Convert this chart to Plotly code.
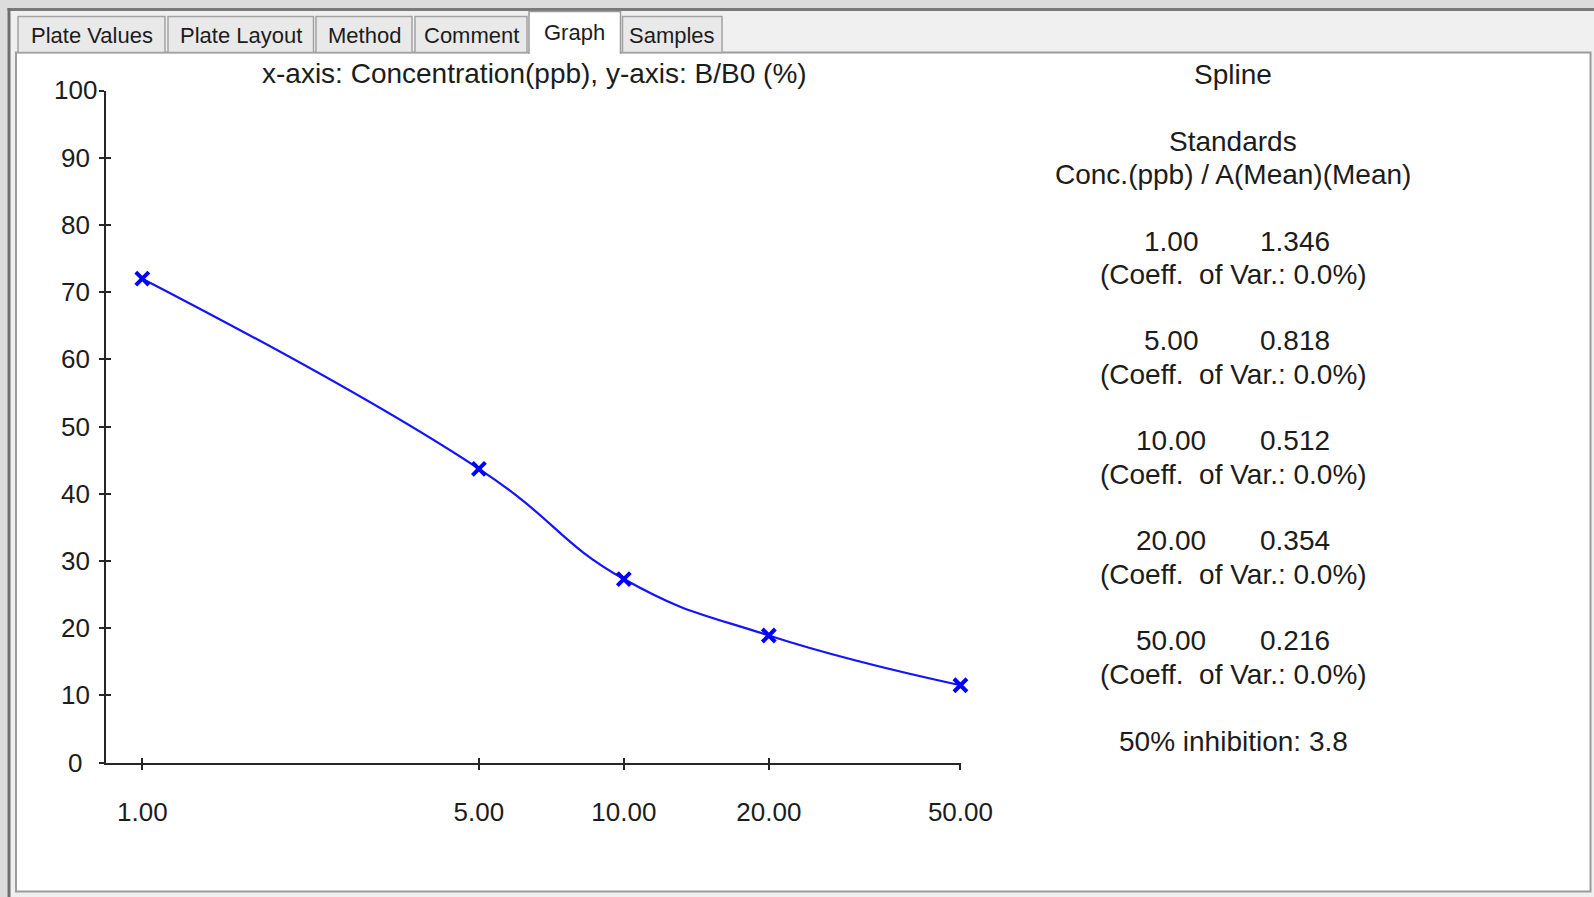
import plotly.graph_objects as go

# ---------------- data ----------------
conc = [1, 5, 10, 20, 50]
conc_labels = ["1.00", "5.00", "10.00", "20.00", "50.00"]
b_b0 = [72.0, 43.7, 27.3, 18.9, 11.5]          # y-axis: B/B0 (%)
mean_abs = [1.346, 0.818, 0.512, 0.354, 0.216]  # A(Mean)(Mean)
coeff_var = [0.0, 0.0, 0.0, 0.0, 0.0]           # %
inhibition_50 = 3.8
y_ticks = [0, 10, 20, 30, 40, 50, 60, 70, 80, 90, 100]
tab_names = ["Plate Values", "Plate Layout", "Method", "Comment", "Graph", "Samples"]
selected_tab = "Graph"

W, H = 1594, 897
FONT = "Liberation Sans, Arial, sans-serif"
TXT = "#1c1c1c"


def px(x):
    return x / W


def py(y):
    return 1 - y / H


shapes = []
annotations = []

# ---- window frame ----
shapes.append(dict(type="rect", xref="paper", yref="paper", x0=0, x1=1, y0=py(8), y1=1,
                   fillcolor="#dcdcdc", line_width=0, layer="below"))
shapes.append(dict(type="rect", xref="paper", yref="paper", x0=0, x1=px(7.5), y0=0, y1=1,
                   fillcolor="#dcdcdc", line_width=0, layer="below"))
shapes.append(dict(type="rect", xref="paper", yref="paper", x0=px(7.5), x1=1, y0=py(11), y1=py(8),
                   fillcolor="#7a7a7a", line_width=0, layer="below"))
shapes.append(dict(type="rect", xref="paper", yref="paper", x0=px(7.5), x1=px(10.5), y0=0, y1=py(8),
                   fillcolor="#6e6e6e", line_width=0, layer="below"))
# content (white) area
shapes.append(dict(type="rect", xref="paper", yref="paper", x0=px(16), x1=px(1590.5), y0=py(891.5), y1=py(52.5),
                   fillcolor="white", line=dict(color="#9c9c9c", width=2), layer="below"))

# ---- tabs ----
tab_x = [(18, 165), (168, 313.5), (316, 412), (415, 527), (529, 620.5), (622.5, 722)]
for name, (x0, x1) in zip(tab_names, tab_x):
    if name == selected_tab:
        y0, y1 = 11.5, 54
        shapes.append(dict(type="path", xref="paper", yref="paper",
                           path=f"M {px(x0)} {py(y1)} L {px(x0)} {py(y0)} L {px(x1)} {py(y0)} L {px(x1)} {py(y1)}",
                           fillcolor="white", line=dict(color="#9c9c9c", width=1.5), layer="below"))
        ty = 32.5
    else:
        y0, y1 = 16.5, 52.5
        shapes.append(dict(type="rect", xref="paper", yref="paper", x0=px(x0), x1=px(x1), y0=py(y1), y1=py(y0),
                           fillcolor="#e9e9e9", line=dict(color="#a3a3a3", width=1.5), layer="below"))
        ty = 36
    annotations.append(dict(text=name, xref="paper", yref="paper", x=px((x0 + x1) / 2), y=py(ty),
                            xanchor="center", yanchor="middle", showarrow=False,
                            font=dict(family=FONT, size=22, color=TXT)))

# ---- chart title ----
annotations.append(dict(text="x-axis: Concentration(ppb), y-axis: B/B0 (%)", xref="paper", yref="paper",
                        x=px(534), y=py(74), xanchor="center", yanchor="middle", showarrow=False,
                        font=dict(family=FONT, size=28, color=TXT)))

# ---- y tick labels (centred, as in the original) ----
for v in y_ticks:
    annotations.append(dict(text=str(v), xref="paper", yref="y", x=px(75), y=v,
                            xanchor="center", yanchor="middle", showarrow=False,
                            font=dict(family=FONT, size=26, color=TXT)))

# ---- right info panel ----
cx = 1233


def add_text(t, x, y):
    annotations.append(dict(text=t, xref="paper", yref="paper", x=px(x), y=py(y),
                            xanchor="center", yanchor="middle", showarrow=False,
                            font=dict(family=FONT, size=28, color=TXT)))


add_text("Spline", cx, 74.5)
add_text("Standards", cx, 141.5)
add_text("Conc.(ppb) / A(Mean)(Mean)", cx, 175)
for i, (cl, m, cv) in enumerate(zip(conc_labels, mean_abs, coeff_var)):
    yy = 241 + 99.9 * i
    add_text(cl, 1171, yy)
    add_text(f"{m:.3f}", 1295, yy)
    add_text(f"(Coeff.\u00a0 of Var.: {cv:.1f}%)", cx, yy + 33.5)
add_text(f"50% inhibition: {inhibition_50}", cx, 741)

# ---- chart ----
x_left, x_right = 105.7, 960.7
y_top, y_bot = 90.5, 762.5
x_range = [-0.0760, 1.6995]

fig = go.Figure()
fig.add_trace(go.Scatter(x=conc, y=b_b0, mode="lines+markers", cliponaxis=False,
                         line=dict(color="#1414ff", width=2.2, shape="spline", smoothing=1.3),
                         marker=dict(symbol="x-thin", size=13, line=dict(color="#0000ff", width=4)),
                         showlegend=False, hoverinfo="x+y", xaxis="x", yaxis="y"))
fig.add_trace(go.Scatter(x=conc, y=b_b0, mode="none", showlegend=False, hoverinfo="skip",
                         xaxis="x2", yaxis="y2"))

axis_common = dict(showgrid=False, zeroline=False, linecolor="#262626", linewidth=2,
                   tickcolor="#262626", tickwidth=2, ticklen=5, fixedrange=True, automargin=False)

fig.update_layout(
    template="none",
    width=W, height=H,
    margin=dict(l=0, r=0, t=0, b=0, pad=0, autoexpand=False),
    paper_bgcolor="#f0f0f0",
    plot_bgcolor="rgba(0,0,0,0)",
    showlegend=False,
    font=dict(family=FONT, color=TXT),
    shapes=shapes,
    annotations=annotations,
    xaxis=dict(type="log", domain=[px(x_left), px(x_right)], range=x_range,
               tickmode="array", tickvals=conc, ticktext=conc_labels, ticks="outside",
               showline=True, anchor="y", ticklabelstandoff=20,
               tickfont=dict(family=FONT, size=26, color=TXT), **axis_common),
    yaxis=dict(domain=[py(y_bot), py(y_top)], range=[0, 100], tickmode="array", tickvals=y_ticks,
               ticks="outside", showline=True, anchor="x", showticklabels=False, **axis_common),
    xaxis2=dict(type="log", domain=[px(x_left), px(x_right)], range=x_range, overlaying="x",
                tickmode="array", tickvals=conc, ticks="inside", showline=False, showticklabels=False,
                anchor="y2", **axis_common),
    yaxis2=dict(domain=[py(y_bot), py(y_top)], range=[0, 100], overlaying="y", tickmode="array",
                tickvals=y_ticks, ticks="inside", showline=False, showticklabels=False,
                anchor="x2", **axis_common),
)

fig.write_html("out.html", config={"displayModeBar": False},
               post_script="document.body.style.margin='0';document.body.style.overflow='hidden';")
